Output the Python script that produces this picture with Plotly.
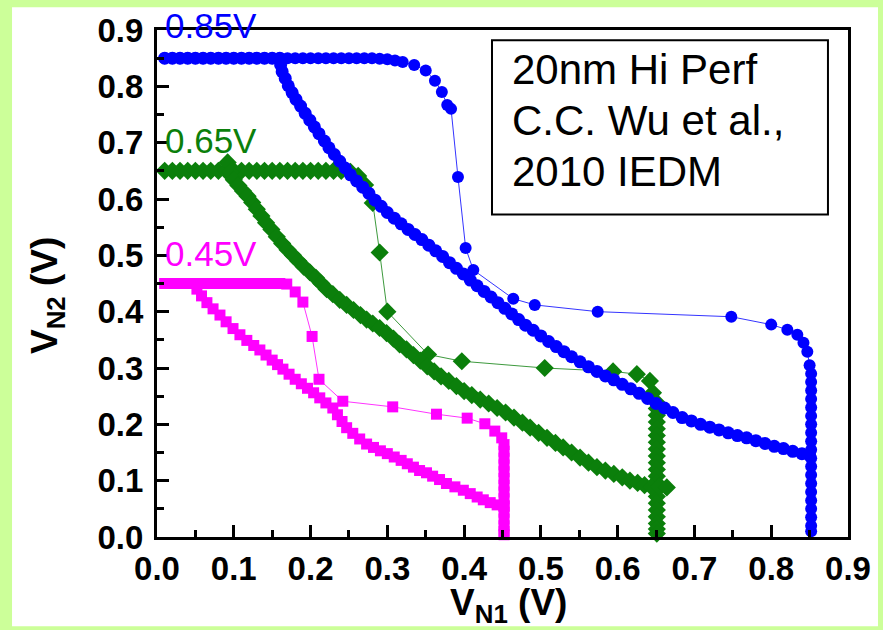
import plotly.graph_objects as go

# ---------------- data ----------------
# 0.85 V supply (blue circles)
blue_a_x = [0.01, 0.02, 0.03, 0.04, 0.05, 0.06, 0.07, 0.08, 0.09, 0.10, 0.11, 0.12, 0.13, 0.14,
            0.15, 0.16, 0.17, 0.18, 0.19, 0.20, 0.21, 0.22, 0.23, 0.24, 0.25, 0.26, 0.27, 0.28,
            0.29, 0.30, 0.31, 0.32, 0.335, 0.35, 0.362, 0.371, 0.378, 0.383, 0.392, 0.402, 0.412,
            0.464, 0.492, 0.574, 0.748, 0.800, 0.821, 0.834, 0.842, 0.847, 0.850,
            0.852, 0.852, 0.852, 0.852, 0.852, 0.852, 0.852, 0.852, 0.852, 0.852, 0.852, 0.852,
            0.852, 0.852, 0.852, 0.852, 0.852, 0.852, 0.852, 0.852]
blue_a_y = [0.85, 0.85, 0.85, 0.85, 0.85, 0.85, 0.85, 0.85, 0.85, 0.85, 0.85, 0.85, 0.85, 0.85,
            0.85, 0.85, 0.85, 0.85, 0.85, 0.85, 0.85, 0.85, 0.85, 0.85, 0.85, 0.85, 0.85, 0.85,
            0.849, 0.848, 0.846, 0.843, 0.838, 0.828, 0.810, 0.790, 0.767, 0.760, 0.639, 0.513, 0.474,
            0.423, 0.412, 0.400, 0.391, 0.377, 0.368, 0.359, 0.345, 0.329, 0.305,
            0.290, 0.275, 0.260, 0.245, 0.230, 0.215, 0.200, 0.185, 0.170, 0.155, 0.140, 0.125,
            0.110, 0.095, 0.080, 0.065, 0.050, 0.035, 0.020, 0.010]

blue_b_x = [0.01, 0.02, 0.03, 0.04, 0.05, 0.06, 0.07, 0.08, 0.09, 0.10, 0.11, 0.12, 0.13, 0.14, 0.15,
            0.160, 0.161, 0.163, 0.167, 0.171, 0.176, 0.181, 0.187, 0.193, 0.199, 0.205, 0.211,
            0.218, 0.224, 0.231, 0.238, 0.245, 0.252, 0.260, 0.268, 0.276, 0.284, 0.292, 0.300,
            0.309, 0.318, 0.327, 0.336, 0.345, 0.354, 0.363, 0.372, 0.381, 0.390, 0.399, 0.408,
            0.417, 0.426, 0.435, 0.444, 0.453, 0.462, 0.471, 0.480, 0.490, 0.500, 0.510, 0.520,
            0.530, 0.540, 0.551, 0.562, 0.573, 0.584, 0.595, 0.606, 0.617, 0.628, 0.639, 0.650,
            0.661, 0.672, 0.684, 0.696, 0.708, 0.720, 0.732, 0.744, 0.756, 0.768, 0.780, 0.792,
            0.804, 0.816, 0.828, 0.840, 0.850]
blue_b_y = [0.85, 0.85, 0.85, 0.85, 0.85, 0.85, 0.85, 0.85, 0.85, 0.85, 0.85, 0.85, 0.85, 0.85, 0.85,
            0.850, 0.838, 0.826, 0.814, 0.801, 0.789, 0.777, 0.765, 0.752, 0.740, 0.728, 0.716,
            0.703, 0.691, 0.679, 0.667, 0.655, 0.643, 0.632, 0.621, 0.610, 0.598, 0.587, 0.576,
            0.566, 0.556, 0.546, 0.537, 0.528, 0.518, 0.508, 0.498, 0.487, 0.477, 0.467, 0.456,
            0.446, 0.436, 0.426, 0.416, 0.406, 0.396, 0.386, 0.376, 0.367, 0.357, 0.347, 0.338,
            0.329, 0.320, 0.311, 0.302, 0.294, 0.286, 0.279, 0.271, 0.263, 0.255, 0.246, 0.237,
            0.229, 0.221, 0.212, 0.206, 0.200, 0.195, 0.190, 0.185, 0.180, 0.176, 0.171, 0.166,
            0.161, 0.157, 0.152, 0.148, 0.145]

# 0.65 V supply (green diamonds)
green_a_x = [0.01, 0.02, 0.03, 0.04, 0.05, 0.06, 0.07, 0.08, 0.09, 0.10, 0.11, 0.12, 0.13, 0.14,
             0.15, 0.16, 0.17, 0.18, 0.19, 0.20, 0.21, 0.22, 0.23, 0.24, 0.252, 0.262, 0.271,
             0.281, 0.290, 0.300, 0.353, 0.397, 0.505, 0.594, 0.625, 0.642, 0.646, 0.650,
             0.651, 0.651, 0.651, 0.651, 0.651, 0.651, 0.651, 0.651, 0.651, 0.651, 0.651,
             0.651, 0.651, 0.651, 0.651, 0.651, 0.651, 0.651, 0.651, 0.651]
green_a_y = [0.65, 0.65, 0.65, 0.65, 0.65, 0.65, 0.65, 0.65, 0.65, 0.65, 0.65, 0.65, 0.65, 0.65,
             0.65, 0.65, 0.65, 0.65, 0.65, 0.65, 0.65, 0.65, 0.65, 0.65, 0.648, 0.641, 0.625,
             0.593, 0.505, 0.400, 0.324, 0.312, 0.300, 0.294, 0.289, 0.277, 0.256, 0.240,
             0.228, 0.216, 0.204, 0.192, 0.180, 0.168, 0.156, 0.144, 0.132, 0.120, 0.108,
             0.096, 0.084, 0.072, 0.060, 0.048, 0.036, 0.024, 0.014, 0.006]

green_b_x = [0.092, 0.096, 0.100, 0.106, 0.112, 0.118, 0.124, 0.130, 0.136, 0.142, 0.149, 0.156,
             0.163, 0.170, 0.177, 0.184, 0.191, 0.199, 0.207, 0.214, 0.221, 0.229, 0.238, 0.247,
             0.256, 0.265, 0.273, 0.281, 0.290, 0.299, 0.308, 0.316, 0.325, 0.334, 0.343, 0.352,
             0.361, 0.370, 0.380, 0.390, 0.400, 0.410, 0.421, 0.432, 0.443, 0.454, 0.465, 0.476,
             0.486, 0.497, 0.508, 0.519, 0.529, 0.540, 0.551, 0.562, 0.573, 0.584, 0.595, 0.606,
             0.616, 0.626, 0.635, 0.644, 0.654, 0.664]
green_b_y = [0.665, 0.648, 0.634, 0.624, 0.614, 0.605, 0.594, 0.582, 0.570, 0.558, 0.546, 0.533,
             0.521, 0.510, 0.500, 0.490, 0.480, 0.470, 0.460, 0.450, 0.440, 0.431, 0.421, 0.412,
             0.403, 0.394, 0.386, 0.379, 0.371, 0.362, 0.352, 0.342, 0.333, 0.323, 0.313, 0.303,
             0.294, 0.285, 0.277, 0.268, 0.259, 0.252, 0.244, 0.237, 0.229, 0.221, 0.212, 0.203,
             0.194, 0.185, 0.176, 0.167, 0.159, 0.150, 0.141, 0.132, 0.124, 0.118, 0.112, 0.106,
             0.100, 0.096, 0.092, 0.089, 0.089, 0.088]

# 0.45 V supply (magenta squares)
mag_a_x = [0.01, 0.02, 0.03, 0.04, 0.05, 0.06, 0.07, 0.08, 0.09, 0.10, 0.11, 0.12, 0.13, 0.14,
           0.15, 0.16, 0.169, 0.180, 0.190, 0.202, 0.211, 0.242, 0.307, 0.364, 0.404, 0.427,
           0.440, 0.449, 0.452, 0.452, 0.452, 0.452, 0.452, 0.452, 0.452, 0.452, 0.452, 0.452,
           0.452, 0.452, 0.452, 0.452, 0.452]
mag_a_y = [0.45, 0.45, 0.45, 0.45, 0.45, 0.45, 0.45, 0.45, 0.45, 0.45, 0.45, 0.45, 0.45, 0.45,
           0.45, 0.45, 0.449, 0.435, 0.417, 0.356, 0.280, 0.241, 0.231, 0.218, 0.211, 0.201,
           0.188, 0.176, 0.164, 0.152, 0.140, 0.128, 0.116, 0.104, 0.092, 0.080, 0.068, 0.056,
           0.044, 0.032, 0.020, 0.010, 0.004]

mag_b_x = [0.050, 0.052, 0.058, 0.065, 0.073, 0.082, 0.090, 0.099, 0.108, 0.117, 0.126, 0.134,
           0.142, 0.150, 0.157, 0.164, 0.172, 0.180, 0.188, 0.196, 0.204, 0.212, 0.220, 0.229,
           0.235, 0.241, 0.247, 0.255, 0.264, 0.273, 0.282, 0.291, 0.300, 0.309, 0.318, 0.326,
           0.334, 0.342, 0.351, 0.359, 0.368, 0.377, 0.388, 0.399, 0.408, 0.417, 0.425, 0.434,
           0.443, 0.452]
mag_b_y = [0.450, 0.440, 0.428, 0.416, 0.405, 0.394, 0.382, 0.370, 0.359, 0.349, 0.340, 0.332,
           0.323, 0.314, 0.306, 0.298, 0.289, 0.280, 0.272, 0.264, 0.256, 0.247, 0.238, 0.229,
           0.217, 0.205, 0.194, 0.184, 0.174, 0.165, 0.159, 0.153, 0.148, 0.142, 0.136, 0.130,
           0.124, 0.118, 0.114, 0.108, 0.102, 0.095, 0.089, 0.083, 0.077, 0.071, 0.066, 0.061,
           0.057, 0.054]

tick_vals = [0.0, 0.1, 0.2, 0.3, 0.4, 0.5, 0.6, 0.7, 0.8, 0.9]
tick_text = ["0.0", "0.1", "0.2", "0.3", "0.4", "0.5", "0.6", "0.7", "0.8", "0.9"]
supply_labels = ["0.85V", "0.65V", "0.45V"]
note_lines = ["20nm Hi Perf", "C.C. Wu et al.,", "2010 IEDM"]

BLUE = "#0000FF"
GREEN = "#0B7F0B"
MAGENTA = "#FF00FF"
FONT = "Arial, Liberation Sans, sans-serif"

fig = go.Figure()

def add(xs, ys, color, symbol, size):
    fig.add_trace(go.Scatter(
        x=xs, y=ys, mode="lines+markers",
        line=dict(color=color, width=0.8),
        marker=dict(color=color, symbol=symbol, size=size, line=dict(width=0)),
        showlegend=False, cliponaxis=False,
    ))

add(mag_a_x, mag_a_y, MAGENTA, "square", 11)
add(mag_b_x, mag_b_y, MAGENTA, "square", 11)
add(green_a_x, green_a_y, GREEN, "diamond", 14)
add(green_b_x, green_b_y, GREEN, "diamond", 14)
add(blue_a_x, blue_a_y, BLUE, "circle", 12)
add(blue_b_x, blue_b_y, BLUE, "circle", 13)

def axis(standoff):
    return dict(
        range=[0, 0.9], tickvals=tick_vals, ticktext=tick_text,
        showline=True, linecolor="black", linewidth=3, mirror=True,
        ticks="inside", ticklen=12, tickwidth=3, tickcolor="black",
        minor=dict(ticks="inside", dtick=0.05, ticklen=7, tickwidth=3, tickcolor="black"),
        showgrid=False, zeroline=False,
        tickfont=dict(family=FONT, size=33, color="black", weight="bold"),
        ticklabelstandoff=standoff,
    )

fig.update_layout(
    width=883, height=630,
    margin=dict(l=157, r=35, t=26, b=93),
    paper_bgcolor="#CCFF99", plot_bgcolor="white",
    xaxis=axis(0), yaxis=axis(4),
    shapes=[
        dict(type="rect", xref="paper", yref="paper",
             x0=-0.2098, x1=1.0434, y0=-0.1761, y1=1.045,
             fillcolor="white", line=dict(width=0), layer="below"),
        dict(type="rect", xref="paper", yref="paper",
             x0=0.4848, x1=0.971, y0=0.636, y1=0.980,
             fillcolor="rgba(0,0,0,0)", line=dict(color="black", width=2)),
    ],
    annotations=[
        dict(text=supply_labels[0], xref="paper", yref="paper", x=0.008, y=1.0098,
             xanchor="left", yanchor="middle", showarrow=False,
             font=dict(family=FONT, size=35, color=BLUE)),
        dict(text=supply_labels[1], xref="paper", yref="paper", x=0.008, y=0.782,
             xanchor="left", yanchor="middle", showarrow=False,
             font=dict(family=FONT, size=35, color=GREEN)),
        dict(text=supply_labels[2], xref="paper", yref="paper", x=0.008, y=0.559,
             xanchor="left", yanchor="middle", showarrow=False,
             font=dict(family=FONT, size=35, color=MAGENTA)),
        dict(text=note_lines[0], xref="paper", yref="paper", x=0.5109, y=0.9217,
             xanchor="left", yanchor="middle", showarrow=False,
             font=dict(family=FONT, size=42, color="black")),
        dict(text=note_lines[1], xref="paper", yref="paper", x=0.5109, y=0.821,
             xanchor="left", yanchor="middle", showarrow=False,
             font=dict(family=FONT, size=42, color="black")),
        dict(text=note_lines[2], xref="paper", yref="paper", x=0.5109, y=0.720,
             xanchor="left", yanchor="middle", showarrow=False,
             font=dict(family=FONT, size=42, color="black")),
        dict(text="<b>V<sub>N1</sub> (V)</b>", xref="paper", yref="paper", x=0.508, y=-0.135,
             xanchor="center", yanchor="middle", showarrow=False,
             font=dict(family=FONT, size=37, color="black")),
        dict(text="<b>V<sub>N2</sub> (V)</b>", xref="paper", yref="paper", x=-0.159, y=0.4755,
             xanchor="center", yanchor="middle", showarrow=False, textangle=-90,
             font=dict(family=FONT, size=37, color="black")),
    ],
)

fig.write_html("out.html", config={"displayModeBar": False},
               post_script="document.body.style.margin='0px';")
